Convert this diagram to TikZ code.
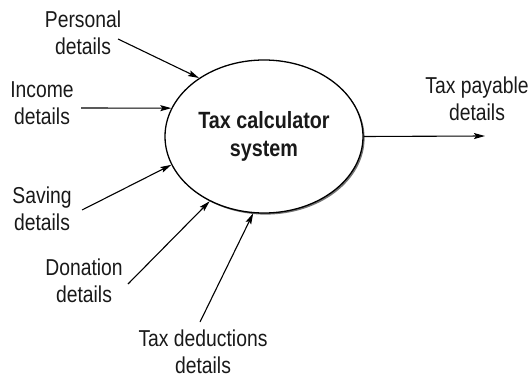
\documentclass[tikz,border=0pt]{standalone}
\usepackage{fontspec}
\setmainfont{Liberation Sans}[FakeStretch=0.84]
\usetikzlibrary{shapes.geometric,arrows.meta,shadows}
\begin{document}
\begin{tikzpicture}[x=1pt,y=-1pt,
  lbl/.style={align=center,inner sep=0pt,font=\fontsize{23}{27}\selectfont,text=black!90},
  proc/.style={ellipse,draw=black,line width=1.3pt,fill=white,minimum width=198pt,minimum height=153pt,inner sep=0pt,
    align=center,font=\fontsize{23.5}{28}\selectfont\bfseries,text=black!90,
    drop shadow={shadow xshift=1.6pt,shadow yshift=-1.6pt,fill=black!55,opacity=1}},
  flow/.style={line width=1.1pt,-{Stealth[length=11pt,width=6pt,inset=2pt]}}]
\useasboundingbox (0,0) rectangle (532,377);
\node[proc] (sys) at (264,136.5) {Tax calculator\\system};
\node[lbl] (personal) at (83,33) {Personal\\details};
\node[lbl] (income) at (42,103) {Income\\details};
\node[lbl] (saving) at (42,209) {Saving\\details};
\node[lbl] (donation) at (84,281) {Donation\\details};
\node[lbl] (deduct) at (203,351.5) {Tax deductions\\details};
\node[lbl] (payable) at (477,99) {Tax payable\\details};
\coordinate (pS) at (118,39);
\coordinate (iS) at (81,108);
\coordinate (sS) at (82,210);
\coordinate (dS) at (128,284);
\coordinate (tS) at (200,322);
\coordinate (oE) at (485,136);
\draw[flow] (pS) -- (sys.138.4);
\draw[flow] (iS) -- (sys.163);
\draw[flow] (sS) -- (sys.197.2);
\draw[flow] (dS) -- (sys.230.5);
\draw[flow] (tS) -- (sys.262.2);
\draw[flow] (sys.0) -- (oE);
\end{tikzpicture}
\end{document}
